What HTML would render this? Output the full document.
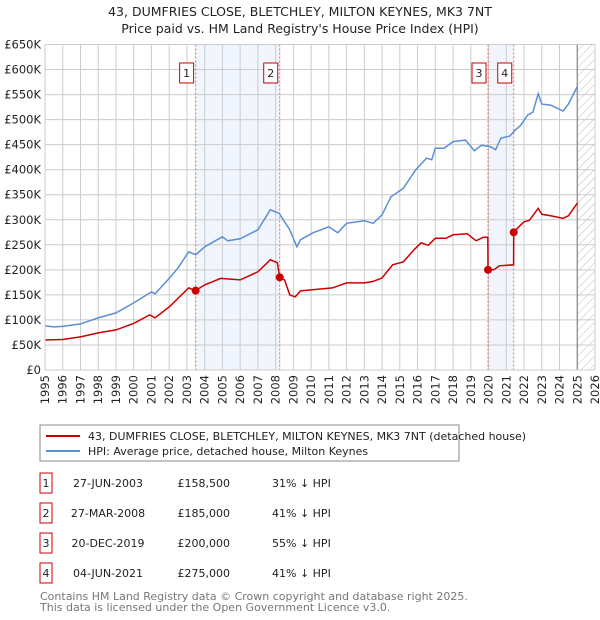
<!DOCTYPE html>
<html><head><meta charset="utf-8">
<style>
body{margin:0;background:#fff;font-family:"Liberation Sans","DejaVu Sans",sans-serif;}
#wrap{position:relative;width:600px;height:620px;overflow:hidden;}
svg text{font-family:"DejaVu Sans","Liberation Sans",sans-serif;}
</style></head>
<body><div id="wrap">
<svg id="chart" width="600" height="620" xmlns="http://www.w3.org/2000/svg">
<defs><pattern id="hatch" width="6" height="6" patternUnits="userSpaceOnUse" patternTransform="rotate(45)"><line x1="0" y1="0" x2="0" y2="6" stroke="#bbb" stroke-width="1"/></pattern></defs>
<text x="300" y="16" text-anchor="middle" font-size="12.5" fill="#222">43, DUMFRIES CLOSE, BLETCHLEY, MILTON KEYNES, MK3 7NT</text>
<text x="300" y="33" text-anchor="middle" font-size="12.5" fill="#222">Price paid vs. HM Land Registry's House Price Index (HPI)</text>
<g id="plot"></g>
<rect x="40" y="425" width="419" height="36" fill="#fff" stroke="#888"/>
<line x1="46" y1="436" x2="80" y2="436" stroke="#cc0000" stroke-width="2"/>
<text x="88" y="440" font-size="11" fill="#222">43, DUMFRIES CLOSE, BLETCHLEY, MILTON KEYNES, MK3 7NT (detached house)</text>
<line x1="46" y1="451" x2="80" y2="451" stroke="#5b8fd4" stroke-width="2"/>
<text x="88" y="455" font-size="11" fill="#222">HPI: Average price, detached house, Milton Keynes</text>
<g id="table" font-size="11" fill="#222"></g>
<text x="40" y="600" font-size="11" fill="#777">Contains HM Land Registry data © Crown copyright and database right 2025.</text>
<text x="40" y="611" font-size="11" fill="#777">This data is licensed under the Open Government Licence v3.0.</text>
</svg>
</div>
<script>
const hpiYears=[1995,1995.5,1996,1997,1998,1999,2000,2001,2001.2,2002,2002.5,2003.1,2003.5,2004,2005,2005.3,2006,2007,2007.7,2008.2,2008.8,2009.2,2009.4,2010.1,2011,2011.5,2012,2013,2013.5,2014,2014.5,2015.2,2015.9,2016.5,2016.8,2017,2017.5,2018,2018.7,2019.2,2019.6,2020.1,2020.4,2020.7,2021.2,2021.5,2021.8,2022.2,2022.5,2022.8,2023.0,2023.5,2024.2,2024.5,2025.0];
const hpiValues=[88,86,87,92,104,114,134,156,152,183,204,236,230,246,266,258,262,280,320,313,280,246,260,274,286,274,293,298,293,310,346,363,400,423,420,443,443,456,459,438,449,446,440,463,467,479,488,509,515,552,531,529,517,531,566];
const ppYears=[1995,1996,1997,1998,1999,2000,2000.9,2001.2,2002,2003.1,2003.49,2004,2004.9,2006,2007,2007.7,2008.1,2008.23,2008.5,2008.8,2009.1,2009.4,2010,2011.2,2012,2013,2013.5,2014,2014.6,2015.2,2015.8,2016.2,2016.6,2017,2017.6,2018,2018.8,2019.3,2019.7,2019.96,2019.97,2020.3,2020.6,2021.41,2021.42,2021.6,2022,2022.3,2022.8,2023,2023.5,2024.2,2024.5,2025];
const ppValues=[60,61,66,74,80,93,110,104,126,164,158.5,170,183,180,196,220,214,185,180,150,146,158,160,164,174,174,177,184,210,216,240,254,249,263,263,270,272,258,265,265,200,200,208,210,275,282,296,299,323,311,308,303,308,333];
const saleYears=[2003.49,2008.23,2019.97,2021.42];
const saleValues=[158.5,185,200,275];
const saleLabels=["1","2","3","4"];
const saleDates=["27-JUN-2003","27-MAR-2008","20-DEC-2019","04-JUN-2021"];
const salePrices=["£158,500","£185,000","£200,000","£275,000"];
const saleHpi=["31% ↓ HPI","41% ↓ HPI","55% ↓ HPI","41% ↓ HPI"];
const yTicks=[0,50,100,150,200,250,300,350,400,450,500,550,600,650];
const yTickLabels=["£0","£50K","£100K","£150K","£200K","£250K","£300K","£350K","£400K","£450K","£500K","£550K","£600K","£650K"];
const xTicks=[1995,1996,1997,1998,1999,2000,2001,2002,2003,2004,2005,2006,2007,2008,2009,2010,2011,2012,2013,2014,2015,2016,2017,2018,2019,2020,2021,2022,2023,2024,2025,2026];

const X0=45,X1=595,Y0=370,Y1=44.5;
const sx=y=>X0+(y-1995)/(2026-1995)*(X1-X0);
const sy=v=>Y0-v/650*(Y0-Y1);
const NS="http://www.w3.org/2000/svg";
const plot=document.getElementById('plot');
function mk(tag,attrs,parent){const e=document.createElementNS(NS,tag);for(const k in attrs)e.setAttribute(k,attrs[k]);(parent||plot).appendChild(e);return e;}

// shaded spans
let s=mk('rect',{x:sx(saleYears[0]),y:Y1,width:sx(saleYears[1])-sx(saleYears[0]),height:Y0-Y1,fill:'#eef3fc',opacity:0.8});


s=mk('rect',{x:sx(saleYears[2]),y:Y1,width:sx(saleYears[3])-sx(saleYears[2]),height:Y0-Y1,fill:'#eef3fc',opacity:0.8});


// hatch future
s=mk('rect',{x:sx(2025),y:Y1,width:X1-sx(2025),height:Y0-Y1,fill:'url(#hatch)'});


// grid
yTicks.forEach((t,i)=>{
  const l=mk('line',{x1:X0,x2:X1,y1:sy(t),y2:sy(t),stroke:'#ccc','stroke-width':1});
  
  
  const tx=mk('text',{x:X0-4,y:sy(t)+4,'text-anchor':'end','font-size':11.5,fill:'#222'});
  tx.textContent=yTickLabels[i];
  
  
});
xTicks.forEach(t=>{
  const l=mk('line',{x1:sx(t),x2:sx(t),y1:Y1,y2:Y0,stroke:'#ccc','stroke-width':1});
  
  
  const tx=mk('text',{x:0,y:0,'text-anchor':'end','font-size':11.5,fill:'#222',transform:`translate(${sx(t)+4},${Y0+5}) rotate(-90)`});
  tx.textContent=t;
  
  
});
s=mk('line',{x1:sx(2025),x2:sx(2025),y1:Y1,y2:Y0,stroke:'#888','stroke-width':1.2});


// sale lines
saleYears.forEach((y,i)=>{
  const l=mk('line',{x1:sx(y),x2:sx(y),y1:Y1,y2:Y0,stroke:'#f06060','stroke-width':1,'stroke-dasharray':'2,2'});
  
  
  const b=mk('rect',{x:sx(y)-16,y:63,width:14,height:20,fill:'#fff',stroke:'#cc0000'});
  
  
  const t=mk('text',{x:sx(y)-9,y:77,'text-anchor':'middle','font-size':11,fill:'#222'});
  t.textContent=saleLabels[i];
  
  
});
function path(xs,vs){return xs.map((x,i)=>(i?'L':'M')+sx(x).toFixed(1)+','+sy(vs[i]).toFixed(1)).join(' ');}
s=mk('path',{d:path(hpiYears,hpiValues),fill:'none',stroke:'#5b8fd4','stroke-width':1.5});


s=mk('path',{d:path(ppYears,ppValues),fill:'none',stroke:'#cc0000','stroke-width':1.5});


saleYears.forEach((y,i)=>{
  const c=mk('circle',{cx:sx(y),cy:sy(saleValues[i]),r:4,fill:'#cc0000'});
  
  
});
s=mk('rect',{x:X0,y:Y1,width:X1-X0,height:Y0-Y1,fill:'none',stroke:'#ccc'});



// table
const tb=document.getElementById('table');
saleLabels.forEach((lab,i)=>{
  const y=483+i*30;
  const b=mk('rect',{x:40,y:y-10,width:12,height:20,fill:'#fff',stroke:'#cc0000'},tb);
  
  
  const cells=[[46,'middle',lab,'badge-number'],[108,'middle',saleDates[i],'date'],[230,'end',salePrices[i],'price'],[272,'start',saleHpi[i],'hpi-diff']];
  cells.forEach(c=>{
    const t=mk('text',{x:c[0],y:y+4,'text-anchor':c[1]},tb);
    t.textContent=c[2];
    
    
  });
});
</script>
</body></html>
